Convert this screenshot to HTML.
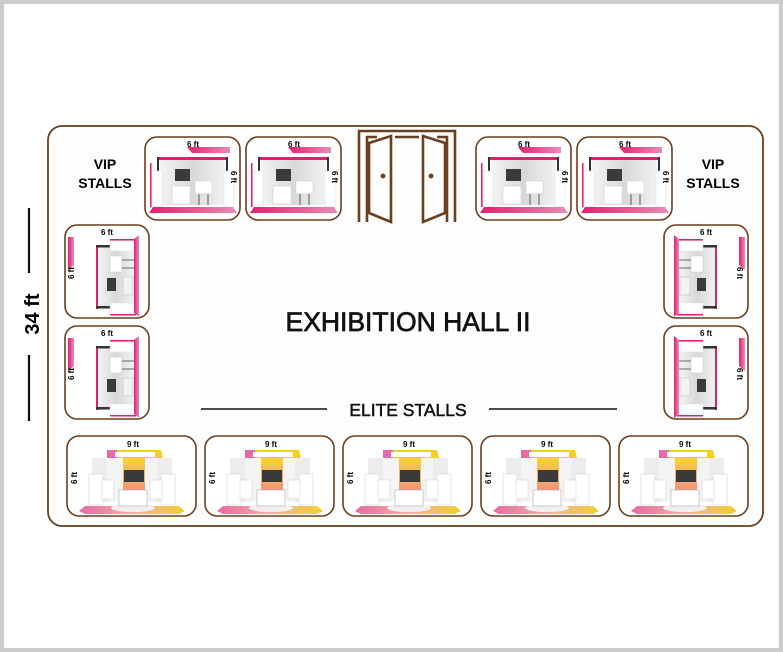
<!DOCTYPE html>
<html><head><meta charset="utf-8"><style>
html,body{margin:0;padding:0;background:#fff}
svg{display:block}
text{font-family:"Liberation Sans",sans-serif}
</style></head><body>
<svg width="783" height="652" viewBox="0 0 783 652" xmlns="http://www.w3.org/2000/svg">
<defs>
<linearGradient id="pk" x1="0" x2="1"><stop offset="0" stop-color="#e0206e"/><stop offset="1" stop-color="#e98cb8"/></linearGradient>
<linearGradient id="wl" x1="0" x2="1"><stop offset="0" stop-color="#f4f4f4"/><stop offset="0.5" stop-color="#d8d8d8"/><stop offset="1" stop-color="#f2f2f2"/></linearGradient>
<linearGradient id="fl" x1="0" x2="1"><stop offset="0" stop-color="#e66aa5"/><stop offset="0.5" stop-color="#f2b0a0"/><stop offset="1" stop-color="#f0d030"/></linearGradient>
<linearGradient id="cn" x1="0" x2="0" y1="0" y2="1"><stop offset="0" stop-color="#f6d040"/><stop offset="1" stop-color="#f08090"/></linearGradient>
<!-- top stall 95x83 -->
<g id="ts">
<rect x="0" y="0" width="95" height="83" rx="12" fill="#fff" stroke="#6b3f1e" stroke-width="1.6"/>
<text x="48" y="10" font-size="8" font-weight="bold" text-anchor="middle">6 ft</text>
<polygon points="42,10 85,10 85,16 47,16" fill="url(#pk)"/>
<rect x="15" y="22" width="65" height="46" fill="url(#wl)"/>
<rect x="12" y="20" width="71" height="3" fill="#e0206e"/>
<rect x="12" y="20" width="2" height="14" fill="#333"/><rect x="81" y="20" width="2" height="14" fill="#333"/>
<rect x="7" y="34" width="10" height="36" fill="#fff" stroke="#ddd" stroke-width="0.5"/>
<rect x="79" y="34" width="10" height="36" fill="#fff" stroke="#ddd" stroke-width="0.5"/>
<rect x="5" y="26" width="1.5" height="44" fill="#e0206e"/>
<rect x="30" y="32" width="15" height="12" fill="#3a3a3a"/>
<rect x="27" y="49" width="18" height="18" fill="#fff" stroke="#ccc" stroke-width="0.5"/>
<rect x="50" y="44" width="17" height="13" fill="#fff" stroke="#ccc" stroke-width="0.5"/>
<line x1="54" y1="57" x2="54" y2="68" stroke="#555"/><line x1="63" y1="57" x2="63" y2="68" stroke="#555"/>
<polygon points="4,76 8,70 88,70 92,76" fill="url(#pk)"/>
<text transform="translate(86,40) rotate(90)" font-size="8" font-weight="bold" text-anchor="middle">6 ft</text>
</g>
<!-- left stall 84x93 -->
<g id="ls">
<rect x="0" y="0" width="84" height="93" rx="12" fill="#fff" stroke="#6b3f1e" stroke-width="1.6"/>
<text x="42" y="10" font-size="8" font-weight="bold" text-anchor="middle">6 ft</text>
<polygon points="3,12 9,12 9,40 3,45" fill="url(#pk)"/>
<rect x="33" y="20" width="36" height="64" fill="url(#wl)"/>
<rect x="31" y="20" width="2" height="64" fill="#e0206e"/>
<rect x="31" y="20" width="14" height="2.5" fill="#333"/><rect x="31" y="81" width="14" height="2.5" fill="#333"/>
<rect x="45" y="16" width="26" height="10" fill="#fff" stroke="#ddd" stroke-width="0.5"/>
<rect x="45" y="78" width="26" height="10" fill="#fff" stroke="#ddd" stroke-width="0.5"/>
<rect x="45" y="14" width="26" height="1.5" fill="#e0206e"/><rect x="45" y="89" width="26" height="1.5" fill="#e0206e"/>
<rect x="45" y="31" width="12" height="16" fill="#fff" stroke="#ccc" stroke-width="0.5"/>
<line x1="57" y1="35" x2="69" y2="35" stroke="#666"/><line x1="57" y1="43" x2="69" y2="43" stroke="#666"/>
<rect x="42" y="53" width="9" height="13" fill="#3a3a3a"/>
<rect x="58" y="52" width="10" height="18" fill="#f2f2f2" stroke="#bbb" stroke-width="0.5"/>
<polygon points="69,14 74,10 74,92 69,88" fill="url(#pk)"/>
<text transform="translate(9,48) rotate(-90)" font-size="8" font-weight="bold" text-anchor="middle">6 ft</text>
</g>
<!-- right stall 84x93 -->
<g id="rs">
<rect x="0" y="0" width="84" height="93" rx="12" fill="#fff" stroke="#6b3f1e" stroke-width="1.6"/>
<text x="42" y="10" font-size="8" font-weight="bold" text-anchor="middle">6 ft</text>
<polygon points="75,12 81,12 81,45 75,40" fill="url(#pk)"/>
<rect x="15" y="20" width="36" height="64" fill="url(#wl)"/>
<rect x="51" y="20" width="2" height="64" fill="#e0206e"/>
<rect x="39" y="20" width="14" height="2.5" fill="#333"/><rect x="39" y="81" width="14" height="2.5" fill="#333"/>
<rect x="13" y="16" width="26" height="10" fill="#fff" stroke="#ddd" stroke-width="0.5"/>
<rect x="13" y="78" width="26" height="10" fill="#fff" stroke="#ddd" stroke-width="0.5"/>
<rect x="13" y="14" width="26" height="1.5" fill="#e0206e"/><rect x="13" y="89" width="26" height="1.5" fill="#e0206e"/>
<rect x="27" y="31" width="12" height="16" fill="#fff" stroke="#ccc" stroke-width="0.5"/>
<line x1="15" y1="35" x2="27" y2="35" stroke="#666"/><line x1="15" y1="43" x2="27" y2="43" stroke="#666"/>
<rect x="33" y="53" width="9" height="13" fill="#3a3a3a"/>
<rect x="16" y="52" width="10" height="18" fill="#f2f2f2" stroke="#bbb" stroke-width="0.5"/>
<polygon points="10,10 15,14 15,88 10,92" fill="url(#pk)"/>
<text transform="translate(73,48) rotate(90)" font-size="8" font-weight="bold" text-anchor="middle">6 ft</text>
</g>
<!-- bottom stall 129x80 -->
<g id="bs">
<rect x="0" y="0" width="129" height="80" rx="12" fill="#fff" stroke="#6b3f1e" stroke-width="1.6"/>
<text x="66" y="11" font-size="8" font-weight="bold" text-anchor="middle">9 ft</text>
<rect x="25" y="22" width="80" height="44" fill="#ececec"/>
<rect x="40" y="22" width="50" height="44" fill="#f4f4f4"/>
<polygon points="40,14 94,14 96,22 40,22" fill="#f4d020"/>
<rect x="40" y="14" width="10" height="8" fill="#e66aa5"/>
<rect x="48" y="16" width="40" height="5" fill="#fff"/>
<rect x="56" y="22" width="22" height="44" fill="url(#cn)"/>
<rect x="57" y="34" width="20" height="12" fill="#3a3a3a"/>
<rect x="22" y="38" width="14" height="31" fill="#fff" stroke="#ccc" stroke-width="0.5"/>
<rect x="94" y="38" width="14" height="31" fill="#fff" stroke="#ccc" stroke-width="0.5"/>
<rect x="35" y="44" width="12" height="19" fill="#fff" stroke="#ccc" stroke-width="0.5"/>
<rect x="83" y="44" width="12" height="19" fill="#fff" stroke="#ccc" stroke-width="0.5"/>
<polygon points="12,75 18,70 112,70 118,75 112,78 18,78" fill="url(#fl)"/>
<ellipse cx="66" cy="72" rx="22" ry="4" fill="#f0f0f0"/>
<rect x="52" y="54" width="28" height="16" fill="#fff" stroke="#aaa" stroke-width="0.6"/>
<text transform="translate(10,42) rotate(-90)" font-size="8" font-weight="bold" text-anchor="middle">6 ft</text>
</g>
</defs>
<rect x="2" y="2" width="779" height="648" fill="#fff" stroke="#cccccc" stroke-width="4"/>
<rect x="48" y="126" width="715" height="400" rx="14" fill="#fdfdfd" stroke="#6b3f1e" stroke-width="1.8"/>
<use href="#ts" x="145" y="137"/><use href="#ts" x="246" y="137"/>
<use href="#ts" x="476" y="137"/><use href="#ts" x="577" y="137"/>
<use href="#ls" x="65" y="225"/><use href="#ls" x="65" y="326"/>
<use href="#rs" x="664" y="225"/><use href="#rs" x="664" y="326"/>
<use href="#bs" x="67" y="436"/><use href="#bs" x="205" y="436"/><use href="#bs" x="343" y="436"/><use href="#bs" x="481" y="436"/><use href="#bs" x="619" y="436"/>
<!-- door -->
<g fill="none" stroke="#6b3f1e" stroke-width="2.6">
<polyline points="359,222 359,131 455,131 455,222"/>
<polyline points="367,222 367,137 377,137"/>
<polyline points="447,222 447,137 437,137"/>
<line x1="395" y1="137" x2="419" y2="137"/>
<polygon points="369,143 391,136 391,222 369,213"/>
<polygon points="445,143 423,136 423,222 445,213"/>
</g>
<circle cx="383" cy="176" r="2.4" fill="#6b3f1e"/><circle cx="431" cy="176" r="2.4" fill="#6b3f1e"/>
<text x="105" y="169" font-size="14" font-weight="bold" text-anchor="middle">VIP</text>
<text x="105" y="188" font-size="14" font-weight="bold" text-anchor="middle">STALLS</text>
<text x="713" y="169" font-size="14" font-weight="bold" text-anchor="middle">VIP</text>
<text x="713" y="188" font-size="14" font-weight="bold" text-anchor="middle">STALLS</text>
<text x="408" y="331" font-size="26.5" text-anchor="middle" stroke="#111" stroke-width="0.7" fill="#111">EXHIBITION HALL II</text>
<text x="408" y="416" font-size="17.5" text-anchor="middle" stroke="#111" stroke-width="0.5" fill="#111">ELITE STALLS</text>
<line x1="201" y1="409" x2="327" y2="409" stroke="#111" stroke-width="1.6"/>
<line x1="489" y1="409" x2="617" y2="409" stroke="#111" stroke-width="1.6"/>
<line x1="29" y1="208" x2="29" y2="273" stroke="#111" stroke-width="2.2"/>
<line x1="29" y1="355" x2="29" y2="421" stroke="#111" stroke-width="2.2"/>
<text transform="translate(39,314) rotate(-90)" font-size="20" font-weight="bold" text-anchor="middle">34 ft</text>
</svg>
</body></html>
